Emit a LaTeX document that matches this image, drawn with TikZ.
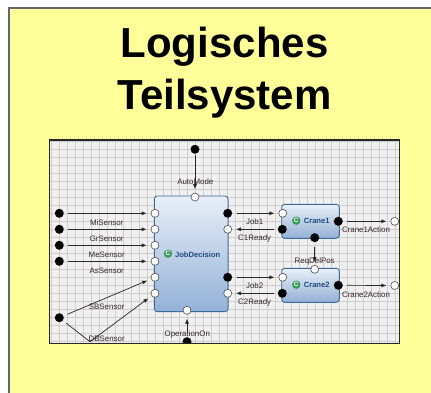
\documentclass[tikz,border=0pt]{standalone}
\usepackage{fontspec}
\setmainfont{Liberation Sans}
\usetikzlibrary{arrows.meta}
\definecolor{slide}{HTML}{FFFF99}
\definecolor{panelbg}{HTML}{F0F0F0}
\definecolor{gridc}{HTML}{CDCDCD}
\definecolor{boxedge}{HTML}{3F6A9A}
\definecolor{boxtop}{HTML}{E8EFF8}
\definecolor{boxbot}{HTML}{93B1D6}
\definecolor{boxtext}{HTML}{1F4A80}
\definecolor{lab}{HTML}{33252A}
\definecolor{gicon}{HTML}{3E9A5A}
\tikzset{
  pin/.style={circle,inner sep=0pt,minimum size=#1,line width=.6pt},
  whiteport/.style={pin=8pt,draw=black!70,fill=white},
  blackport/.style={pin=9pt,fill=black},
  blockbox/.style={draw=boxedge,line width=.9pt,rounded corners=3pt,top color=boxtop,bottom color=boxbot,inner sep=0pt},
  conn/.style={draw=black!85,line width=.7pt,-{Latex[length=5pt,width=4pt]}},
  wire/.style={draw=black!85,line width=.7pt},
  lbl/.style={font=\fontsize{7.9}{9}\selectfont,text=lab,inner sep=0pt},
  title/.style={font=\fontsize{42}{50}\selectfont\bfseries,text=black,inner sep=0pt,anchor=base},
  blockname/.style={font=\fontsize{7.6}{9}\selectfont\bfseries,text=boxtext,inner sep=0pt},
  gmark/.style={circle,fill=gicon,inner sep=0pt,minimum size=8.5pt,text=white,font=\fontsize{6.5}{7}\selectfont\bfseries}
}
\begin{document}
\begin{tikzpicture}[x=1pt,y=-1pt]
\useasboundingbox (0,0) rectangle (431,393);
\fill[white] (0,0) rectangle (431,393);
\fill[slide] (9,8) rectangle (431,393);
\draw[black!60,line width=1.4pt] (9,393) -- (9,8) -- (431,8);
\node[title] (t1) at (224.5,58) {Logisches};
\node[title] (t2) at (224.5,109.7) {Teilsystem};
% panel
\fill[panelbg] (49.5,140) rectangle (399.5,343.3);
\begin{scope}
\clip (49.5,140) rectangle (399.5,343.3);
\foreach \gx in {0,...,44}{\draw[gridc,line width=.9pt] ({51.3+8*\gx},140) -- ({51.3+8*\gx},343.3);}
\foreach \gy in {0,...,25}{\draw[gridc,line width=.9pt] (49.5,{141.3+8*\gy}) -- (399.5,{141.3+8*\gy});}
% blocks
\node[blockbox,minimum width=73.7pt,minimum height=115.7pt] (job) at (191.2,253.8) {};
\node[blockbox,minimum width=57.6pt,minimum height=34pt] (cr1) at (310.5,221.3) {};
\node[blockbox,minimum width=57.6pt,minimum height=34pt] (cr2) at (310.5,285.3) {};
\node[gmark] (g0) at (168,253.7) {C};
\node[blockname] (jobt) at (197.7,254.3) {JobDecision};
\node[gmark] (g1) at (296.3,220.7) {C};
\node[blockname] (cr1t) at (316.7,221.3) {Crane1};
\node[gmark] (g2) at (296.3,284.7) {C};
\node[blockname] (cr2t) at (316.7,285.3) {Crane2};
% connectors' end pins first, so that labels can lie over the lines
\node[whiteport] (jauto) at (195,197) {};
\node[whiteport] (ja) at (155,213.3) {};
\node[whiteport] (jb) at (155,229.3) {};
\node[whiteport] (jc) at (155,245.3) {};
\node[whiteport] (jd) at (155,261.3) {};
\node[whiteport] (je) at (155,277.3) {};
\node[whiteport] (jf) at (155,293.3) {};
\node[blackport] (jr1) at (227.7,213.3) {};
\node[whiteport] (jr2) at (227.7,229.3) {};
\node[blackport] (jr3) at (227.7,277.3) {};
\node[whiteport] (jr4) at (227.7,293.3) {};
\node[whiteport] (jop) at (187,310.3) {};
\node[whiteport] (c1a) at (282.7,213.3) {};
\node[blackport] (c1b) at (282.3,229.3) {};
\node[blackport] (c1c) at (338.3,221.3) {};
\node[blackport] (c1d) at (314.7,237.7) {};
\node[whiteport] (c2t) at (314.7,269.3) {};
\node[whiteport] (c2a) at (282.7,277.3) {};
\node[blackport] (c2b) at (282.3,293.3) {};
\node[blackport] (c2c) at (338.3,285.3) {};
\node[blackport] (sauto) at (195,149.3) {};
\node[blackport] (sa) at (59.3,213.3) {};
\node[blackport] (sb) at (59.3,229.3) {};
\node[blackport] (sc) at (59.3,245.3) {};
\node[blackport] (sd) at (59.3,261.3) {};
\node[blackport] (se) at (59.3,317.7) {};
\node[blackport] (sop) at (187,341.7) {};
\node[whiteport] (o1) at (394.7,221.3) {};
\node[whiteport] (o2) at (394.7,285.5) {};
\coordinate (dbk) at (90,341.7);
% connectors
\draw[conn,shorten <=1pt,shorten >=3.5pt] (sauto) -- (jauto);
\draw[conn,shorten <=4pt,shorten >=4pt] (sa) -- (ja);
\draw[conn,shorten <=4pt,shorten >=4pt] (sb) -- (jb);
\draw[conn,shorten <=4pt,shorten >=4pt] (sc) -- (jc);
\draw[conn,shorten <=4pt,shorten >=4pt] (sd) -- (jd);
\draw[conn,shorten <=4pt,shorten >=4pt] (se) -- (je);
\draw[wire,shorten <=4pt] (se) -- (dbk);
\draw[conn,shorten >=4pt] (dbk) -- (jf);
\draw[conn,shorten <=4pt,shorten >=4pt] (sop) -- (jop);
\draw[conn,shorten <=4pt,shorten >=4pt] (jr1) -- (c1a);
\draw[conn,shorten <=4pt,shorten >=4pt] (c1b) -- (jr2);
\draw[conn,shorten <=4pt,shorten >=4pt] (jr3) -- (c2a);
\draw[conn,shorten <=4pt,shorten >=4pt] (c2b) -- (jr4);
\draw[conn,shorten <=4pt,shorten >=4pt] (c1c) -- (o1);
\draw[conn,shorten <=4pt,shorten >=4pt] (c2c) -- (o2);
\draw[conn,shorten <=4pt,shorten >=3pt] (c1d) -- (c2t);
% labels
\node[lbl] (lauto) at (195.3,181.3) {AutoMode};
\node[lbl] (lmi) at (106.7,222.3) {MiSensor};
\node[lbl] (lgr) at (106.7,238.3) {GrSensor};
\node[lbl] (lme) at (106.7,254.3) {MeSensor};
\node[lbl] (las) at (106.7,270.3) {AsSensor};
\node[lbl] (lsb) at (106.7,306.3) {SBSensor};
\node[lbl] (ldb) at (106.7,338.3) {DBSensor};
\node[lbl] (lop) at (187.3,334.3) {OperationOn};
\node[lbl] (lj1) at (254.7,222) {Job1};
\node[lbl] (lc1) at (254.7,238.3) {C1Ready};
\node[lbl] (lj2) at (254.7,286) {Job2};
\node[lbl] (lc2) at (254.7,302.3) {C2Ready};
\node[lbl] (la1) at (366,230) {Crane1Action};
\node[lbl] (la2) at (366,294.3) {Crane2Action};
\node[lbl] (lrq) at (314.7,261.7) {ReqDelPos};
\end{scope}
\draw[black!85,line width=1.2pt] (49.5,140) rectangle (399.5,343.3);
\end{tikzpicture}
\end{document}
